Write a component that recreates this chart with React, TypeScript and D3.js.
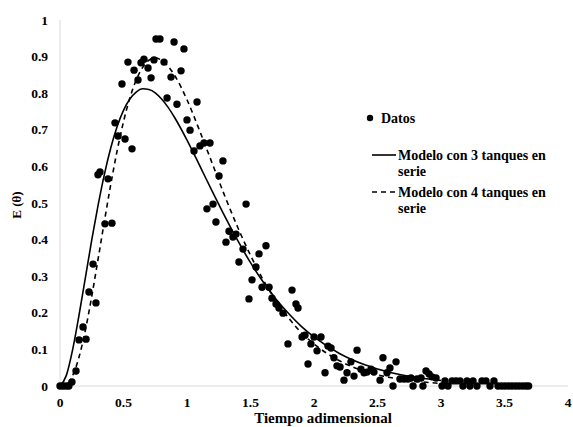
import { useEffect, useRef } from 'react';
import * as d3 from 'd3';

// Datos experimentales (θ, E)
const datosTheta = [
  0, 0.025, 0.05, 0.07, 0.094, 0.126, 0.15, 0.181, 0.205, 0.228, 0.26, 0.283, 0.299, 0.315, 0.354,
  0.378, 0.409, 0.433, 0.457, 0.488, 0.512, 0.535, 0.567, 0.583, 0.614, 0.638, 0.661, 0.693, 0.717,
  0.74, 0.756, 0.787, 0.819, 0.843, 0.874, 0.898, 0.921, 0.953, 0.976, 1.0, 1.024, 1.055, 1.079,
  1.102, 1.134, 1.157, 1.181, 1.205, 1.228, 1.252, 1.283, 1.307, 1.331, 1.362, 1.386, 1.409, 1.441,
  1.465, 1.488, 1.512, 1.543, 1.567, 1.591, 1.622, 1.646, 1.669, 1.701, 1.724, 1.756, 1.795, 1.827,
  1.858, 1.874, 1.906, 1.929, 1.953, 1.976, 2.0, 2.024, 2.055, 2.087, 2.11, 2.134, 2.157, 2.181,
  2.205, 2.236, 2.26, 2.291, 2.315, 2.339, 2.37, 2.394, 2.417, 2.449, 2.472, 2.52, 2.543, 2.575,
  2.598, 2.622, 2.646, 2.677, 2.709, 2.74, 2.764, 2.78, 2.811, 2.843, 2.858, 2.882, 2.906, 2.929,
  2.961, 3.008, 3.031, 3.055, 3.087, 3.118, 3.15, 3.173, 3.205, 3.228, 3.252, 3.283, 3.323, 3.354,
  3.386, 3.417, 3.449, 3.477, 3.504, 3.532, 3.559, 3.587, 3.614, 3.642, 3.669, 3.69,
];
const datosE = [
  0, 0, 0, 0, 0.011, 0.041, 0.126, 0.161, 0.128, 0.257, 0.333, 0.227, 0.577, 0.585, 0.443,
  0.566, 0.445, 0.719, 0.683, 0.825, 0.675, 0.885, 0.648, 0.863, 0.836, 0.883, 0.893, 0.869, 0.842,
  0.891, 0.948, 0.948, 0.885, 0.787, 0.844, 0.94, 0.77, 0.861, 0.921, 0.727, 0.699, 0.642, 0.776,
  0.656, 0.664, 0.484, 0.664, 0.497, 0.448, 0.574, 0.615, 0.393, 0.423, 0.407, 0.415, 0.339, 0.374,
  0.497, 0.238, 0.29, 0.325, 0.361, 0.27, 0.383, 0.27, 0.24, 0.224, 0.213, 0.199, 0.115, 0.262,
  0.224, 0.213, 0.134, 0.139, 0.06, 0.115, 0.134, 0.096, 0.134, 0.036, 0.109, 0.104, 0.077, 0.055,
  0.052, 0.016, 0.036, 0.066, 0.027, 0.098, 0.046, 0.036, 0.038, 0.046, 0.038, 0.016, 0.077, 0.036,
  0.049, 0, 0.066, 0.019, 0.019, 0.019, 0.022, 0, 0.019, 0.022, 0, 0.041, 0.033, 0.025,
  0.022, 0, 0.014, 0, 0.014, 0.014, 0.014, 0, 0.014, 0, 0.014, 0, 0.014, 0.014,
  0, 0.014, 0, 0, 0, 0, 0, 0, 0, 0, 0, 0,
];

// Curvas de los modelos
const modeloTheta = [
  0, 0.05, 0.1, 0.15, 0.2, 0.25, 0.3, 0.35, 0.4, 0.45, 0.5, 0.55, 0.6, 0.65, 0.7, 0.75, 0.8, 0.85,
  0.9, 1.0, 1.1, 1.2, 1.3, 1.4, 1.5, 1.6, 1.7, 1.8, 1.9, 2.0, 2.2, 2.4, 2.6, 2.8, 3.0,
];
const modelo3 = [
  0, 0.029, 0.1, 0.194, 0.296, 0.399, 0.494, 0.579, 0.651, 0.709, 0.753, 0.784, 0.803, 0.812, 0.81,
  0.801, 0.784, 0.762, 0.735, 0.672, 0.602, 0.531, 0.462, 0.397, 0.337, 0.284, 0.238, 0.198, 0.163,
  0.134, 0.089, 0.058, 0.037, 0.024, 0.015,
];
const modelo4 = [
  0, 0.004, 0.029, 0.079, 0.153, 0.245, 0.347, 0.451, 0.551, 0.643, 0.722, 0.787, 0.836, 0.87, 0.89,
  0.896, 0.89, 0.874, 0.85, 0.782, 0.697, 0.607, 0.517, 0.433, 0.357, 0.29, 0.234, 0.186, 0.146,
  0.115, 0.069, 0.04, 0.023, 0.013, 0.007,
];

const xTicks = [0, 0.5, 1, 1.5, 2, 2.5, 3, 3.5, 4];
const yTicks = [0, 0.1, 0.2, 0.3, 0.4, 0.5, 0.6, 0.7, 0.8, 0.9, 1];

const FONT = '"Liberation Serif", "Times New Roman", serif';

const App = () => {
  const ref = useRef<SVGSVGElement>(null);

  useEffect(() => {
    const svg = d3.select(ref.current);
    svg.selectAll('*').remove();

    const x = d3.scaleLinear().domain([0, 4]).range([60, 568]);
    const y = d3.scaleLinear().domain([0, 1]).range([386, 20]);

    // ejes
    svg.append('line')
      .attr('x1', x(0)).attr('x2', x(0)).attr('y1', y(1)).attr('y2', y(0))
      .attr('stroke', '#d9d9d9').attr('stroke-width', 1);
    svg.append('line')
      .attr('x1', x(0)).attr('x2', x(4)).attr('y1', y(0)).attr('y2', y(0))
      .attr('stroke', '#d9d9d9').attr('stroke-width', 1);

    svg.append('g')
      .selectAll('text')
      .data(yTicks)
      .join('text')
      .attr('x', 48)
      .attr('y', (d) => y(d) + 4.5)
      .attr('text-anchor', 'end')
      .attr('font-family', FONT)
      .attr('font-weight', 'bold')
      .attr('font-size', 13.5)
      .text((d) => String(d));

    svg.append('g')
      .selectAll('text')
      .data(xTicks)
      .join('text')
      .attr('x', (d) => x(d))
      .attr('y', 407)
      .attr('text-anchor', 'middle')
      .attr('font-family', FONT)
      .attr('font-weight', 'bold')
      .attr('font-size', 13.5)
      .text((d) => String(d));

    svg.append('text')
      .attr('x', 323)
      .attr('y', 423)
      .attr('text-anchor', 'middle')
      .attr('font-family', FONT)
      .attr('font-weight', 'bold')
      .attr('font-size', 15)
      .text('Tiempo adimensional');

    svg.append('text')
      .attr('transform', 'translate(21,205) rotate(-90)')
      .attr('text-anchor', 'middle')
      .attr('font-family', FONT)
      .attr('font-weight', 'bold')
      .attr('font-size', 13)
      .text('E (θ)');

    // curvas
    const line = d3.line<number>()
      .x((d, i) => x(modeloTheta[i]))
      .y((d) => y(d))
      .curve(d3.curveMonotoneX);

    svg.append('path')
      .attr('d', line(modelo3))
      .attr('fill', 'none')
      .attr('stroke', '#000')
      .attr('stroke-width', 1.6);

    svg.append('path')
      .attr('d', line(modelo4))
      .attr('fill', 'none')
      .attr('stroke', '#000')
      .attr('stroke-width', 1.6)
      .attr('stroke-dasharray', '5,4');

    // datos
    svg.append('g')
      .selectAll('circle')
      .data(datosTheta)
      .join('circle')
      .attr('cx', (d) => x(d))
      .attr('cy', (d, i) => y(datosE[i]))
      .attr('r', 3.7)
      .attr('fill', '#000');

    // leyenda
    const leg = svg.append('g')
      .attr('font-family', FONT)
      .attr('font-weight', 'bold')
      .attr('font-size', 14);

    leg.append('circle').attr('cx', 370).attr('cy', 118).attr('r', 3.2).attr('fill', '#000');
    leg.append('text').attr('x', 381).attr('y', 123).text('Datos');

    leg.append('line')
      .attr('x1', 372).attr('x2', 396).attr('y1', 155).attr('y2', 155)
      .attr('stroke', '#000').attr('stroke-width', 1.6);
    leg.append('text').attr('x', 398).attr('y', 160).text('Modelo con 3 tanques en');
    leg.append('text').attr('x', 398).attr('y', 176).text('serie');

    leg.append('line')
      .attr('x1', 372).attr('x2', 396).attr('y1', 192).attr('y2', 192)
      .attr('stroke', '#000').attr('stroke-width', 1.6)
      .attr('stroke-dasharray', '5,4');
    leg.append('text').attr('x', 398).attr('y', 197).text('Modelo con 4 tanques en');
    leg.append('text').attr('x', 398).attr('y', 213).text('serie');
  }, []);

  return (
    <svg
      ref={ref}
      width={573}
      height={427}
      style={{ position: 'absolute', left: 0, top: 0, background: '#fff' }}
    />
  );
};

export default App;
